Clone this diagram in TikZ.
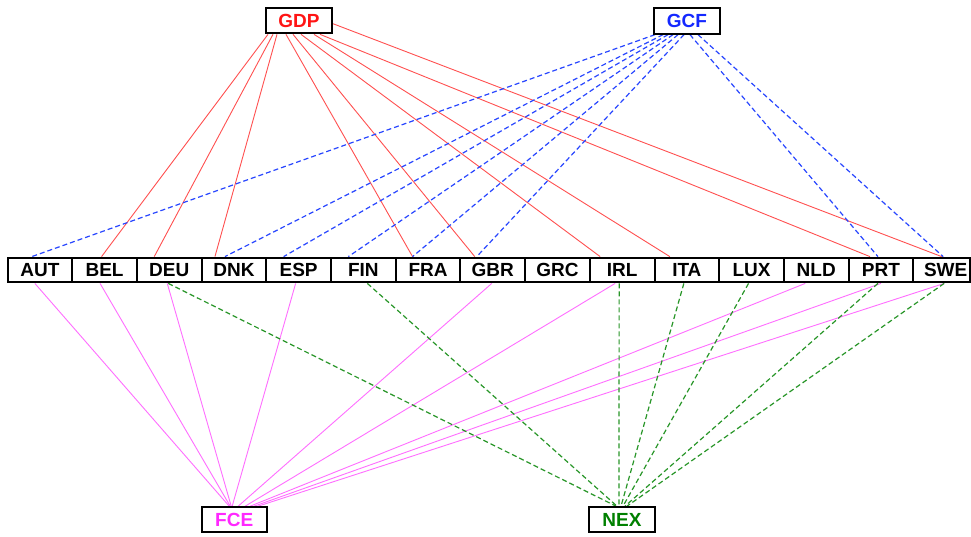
\documentclass[tikz,border=0pt]{standalone}
\usepackage{fontspec}
\setmainfont{Liberation Sans}
\usetikzlibrary{backgrounds}
\definecolor{cred}{RGB}{255,20,20}
\definecolor{lred}{RGB}{255,80,80}
\definecolor{cblue}{RGB}{20,40,255}
\definecolor{lblue}{RGB}{40,70,255}
\definecolor{cmag}{RGB}{255,40,255}
\definecolor{lmag}{RGB}{255,110,255}
\definecolor{cgreen}{RGB}{0,128,0}
\definecolor{lgreen}{RGB}{40,150,40}
\tikzset{
 box/.style={draw=black, line width=2pt, fill=white, inner sep=0pt, minimum height=25.3pt, font=\fontsize{19}{19}\selectfont\bfseries},
 cbox/.style={box, minimum width=64.7pt, minimum height=24.8pt},
 gbox/.style={box, minimum width=66pt},
 redline/.style={draw=lred, line width=0.9pt},
 blueline/.style={draw=lblue, line width=1.2pt, dash pattern=on 5pt off 3pt},
 magline/.style={draw=lmag, line width=0.9pt},
 greenline/.style={draw=lgreen, line width=1.2pt, dash pattern=on 5pt off 3pt},
}
\begin{document}
\begin{tikzpicture}[x=1pt,y=-1pt]
\useasboundingbox (0,0) rectangle (971,536);
% top and bottom variables
\node[gbox, text=cred] (GDP) at (299,20.7) {GDP};
\node[gbox, text=cblue] (GCF) at (687,21) {GCF};
\node[gbox, minimum width=65pt, text=cmag] (FCE) at (234.2,519.8) {FCE};
\node[gbox, text=cgreen] (NEX) at (622,519.8) {NEX};
% countries
\foreach \n [count=\i from 0] in {AUT,BEL,DEU,DNK,ESP,FIN,FRA,GBR,GRC,IRL,ITA,LUX,NLD,PRT}
  \node[cbox] (\n) at ({7.5+64.7*(\i+0.5)},270) {\n};
\node[cbox, minimum width=56.7pt] (SWE) at (941.65,270) {\hspace*{8pt}SWE};
\begin{scope}[on background layer]
\fill[white] (0,0) rectangle (971,536);
% GDP
\foreach \t/\a/\b in {BEL/-31/-3, DEU/-26/-15, DNK/-22/-19, FRA/-13/-15.5, GBR/-6/-18, IRL/2/-22, ITA/15/-17, PRT/21/-11}
  \draw[redline] ([xshift=\a pt]GDP.south) -- ([xshift=\b pt]\t.north);
\draw[redline] ([yshift=-3pt]GDP.east) -- (SWE.north);
% GCF
\foreach \t/\a/\b in {AUT/-32/-8, DNK/-24/-9, ESP/-19/-15, FIN/-14/-15, FRA/-9/-15.5, GBR/-3/-16, PRT/3/-3, SWE/11/1.5}
  \draw[blueline] ([xshift=\a pt]GCF.south) -- ([xshift=\b pt]\t.north);
% FCE
\foreach \t/\a/\b in {AUT/-5/-5, BEL/-4.5/-4, DEU/-2/-3, ESP/-3/-2, GBR/-1/4, IRL/-7/11, NLD/-11/16, PRT/0/20, SWE/2.5/24}
  \draw[magline] ([xshift=\a pt]\t.south) -- ([xshift=\b pt]FCE.north);
% NEX
\foreach \t/\a/\b in {DEU/-1/-6, FIN/4/-5, IRL/-3/-3, ITA/-3/-1, LUX/-3/1, PRT/-3/3, SWE/2.5/5}
  \draw[greenline] ([xshift=\a pt]\t.south) -- ([xshift=\b pt]NEX.north);
\end{scope}
\end{tikzpicture}
\end{document}
